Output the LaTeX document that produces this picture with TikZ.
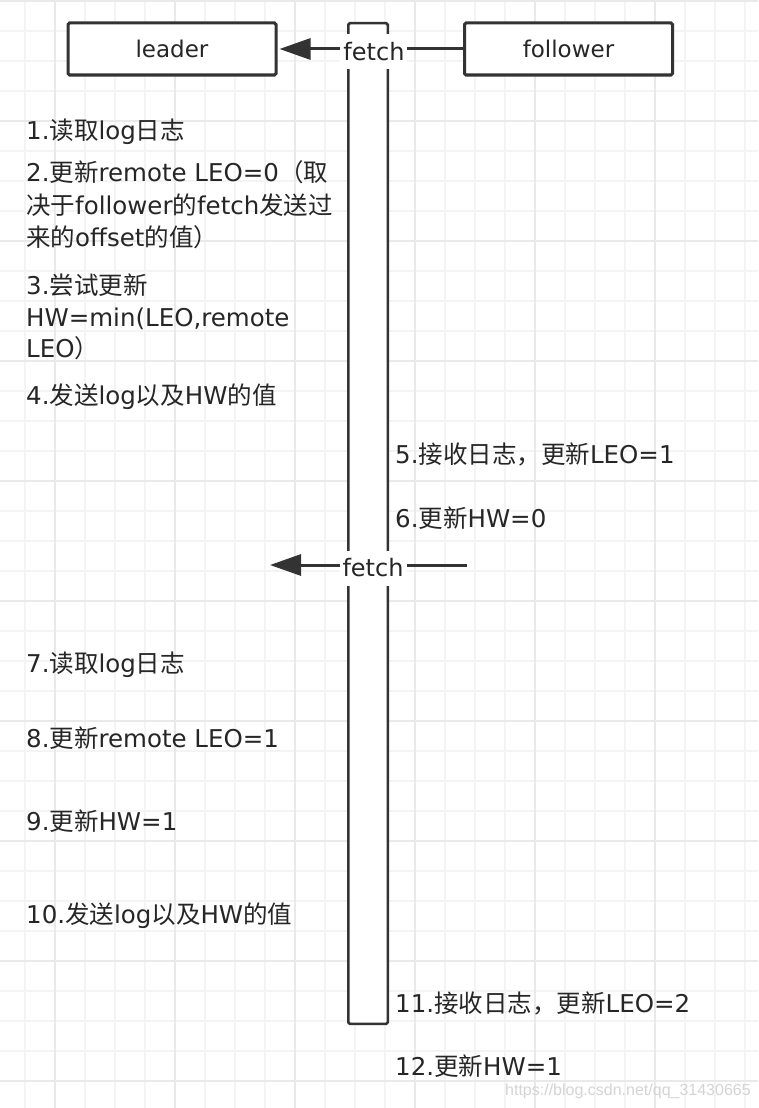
\documentclass[tikz,border=0pt]{standalone}
\usepackage{fontspec}
\setmainfont{DejaVu Sans}
\newfontfamily\cjk{Noto Sans CJK SC}
\newfontfamily\wmfont{Liberation Sans}
\usetikzlibrary{arrows.meta}
\newcommand\zh[1]{{\cjk #1}}
\definecolor{ink}{HTML}{333333}
\definecolor{txtc}{HTML}{262626}
\definecolor{gridminor}{HTML}{F4F4F4}
\definecolor{gridmajor}{HTML}{E9E9E9}
\definecolor{wmgray}{HTML}{D4D4D4}
\begin{document}
\begin{tikzpicture}[x=1pt,y=-1pt,
  txt/.style={anchor=base west, inner sep=0pt, text=txtc, font=\fontsize{24.5}{30}\selectfont},
  actor/.style={draw=ink, line width=3pt, fill=white, rounded corners=1.5pt, minimum width=208pt, minimum height=52pt, inner sep=0pt, text=txtc, font=\fontsize{23}{28}\selectfont},
  lifebar/.style={draw=ink, line width=2.5pt, fill=white, rounded corners=1.5pt, minimum width=39.5pt, minimum height=1000.5pt, inner sep=0pt},
  msg/.style={draw=ink, line width=3pt, -{Triangle[length=31pt,width=21pt]}},
  lab/.style={fill=white, text=txtc, inner sep=0pt, minimum width=67pt, minimum height=35pt, font=\fontsize{24}{30}\selectfont},
  gminor/.style={draw=gridminor, line width=1.3pt},
  gmajor/.style={draw=gridmajor, line width=1.3pt},
]
\useasboundingbox (0,0) rectangle (758,1108);
\fill[white] (0,0) rectangle (758,1108);
% grid
\foreach \x in {25,55,...,745} \draw[gminor] (\x,0) -- (\x,1108);
\foreach \y in {1,31,...,1081} \draw[gminor] (0,\y) -- (758,\y);
\foreach \x in {55,175,...,655} \draw[gmajor] (\x,0) -- (\x,1108);
\foreach \y in {1,121,...,1081} \draw[gmajor] (0,\y) -- (758,\y);

% actors and lifeline
\node[actor] (leader) at (172,49) {leader};
\node[actor] (follower) at (568.5,49) {follower};
\node[lifebar] (lifeline) at (368,523.5) {};

% messages
\draw[msg, shorten >=2pt] (follower.west) -- (leader.east)
  node[lab, pos=0.48, yshift=-2.5pt] (fetch1) {fetch};
\coordinate (tail2) at (467,565);
\coordinate (tip2) at (270,565);
\draw[msg] (tail2) -- (tip2)
  node[lab, pos=0.477, yshift=-3pt] (fetch2) {fetch};

% leader side steps
\node[txt] (s1) at (26,139) {1.\zh{读取}log\zh{日志}};
\node[txt] (s2a) at (26,181) {2.\zh{更新}remote LEO=0\zh{（取}};
\node[txt] (s2b) at (26,214) {\zh{决于}follower\zh{的}fetch\zh{发送过}};
\node[txt] (s2c) at (26,246) {\zh{来的}offset\zh{的值）}};
\node[txt] (s3a) at (26,294) {3.\zh{尝试更新}};
\node[txt] (s3b) at (26,326) {HW=min(LEO,remote};
\node[txt] (s3c) at (26,357) {LEO\zh{）}};
\node[txt] (s4) at (26,404) {4.\zh{发送}log\zh{以及}HW\zh{的值}};

% follower side steps
\node[txt] (s5) at (395,463) {5.\zh{接收日志，更新}LEO=1};
\node[txt] (s6) at (395,527) {6.\zh{更新}HW=0};

\node[txt] (s7) at (26,672) {7.\zh{读取}log\zh{日志}};
\node[txt] (s8) at (26,747) {8.\zh{更新}remote LEO=1};
\node[txt] (s9) at (26,830) {9.\zh{更新}HW=1};
\node[txt] (s10) at (26,923) {10.\zh{发送}log\zh{以及}HW\zh{的值}};

\node[txt] (s11) at (395,1012) {11.\zh{接收日志，更新}LEO=2};
\node[txt] (s12) at (395,1075) {12.\zh{更新}HW=1};

% watermark
\node[anchor=base west, inner sep=0pt, text=wmgray, font=\wmfont\fontsize{16}{18}\selectfont] (wm) at (505,1095) {https://blog.csdn.net/qq\_31430665};
\end{tikzpicture}
\end{document}
